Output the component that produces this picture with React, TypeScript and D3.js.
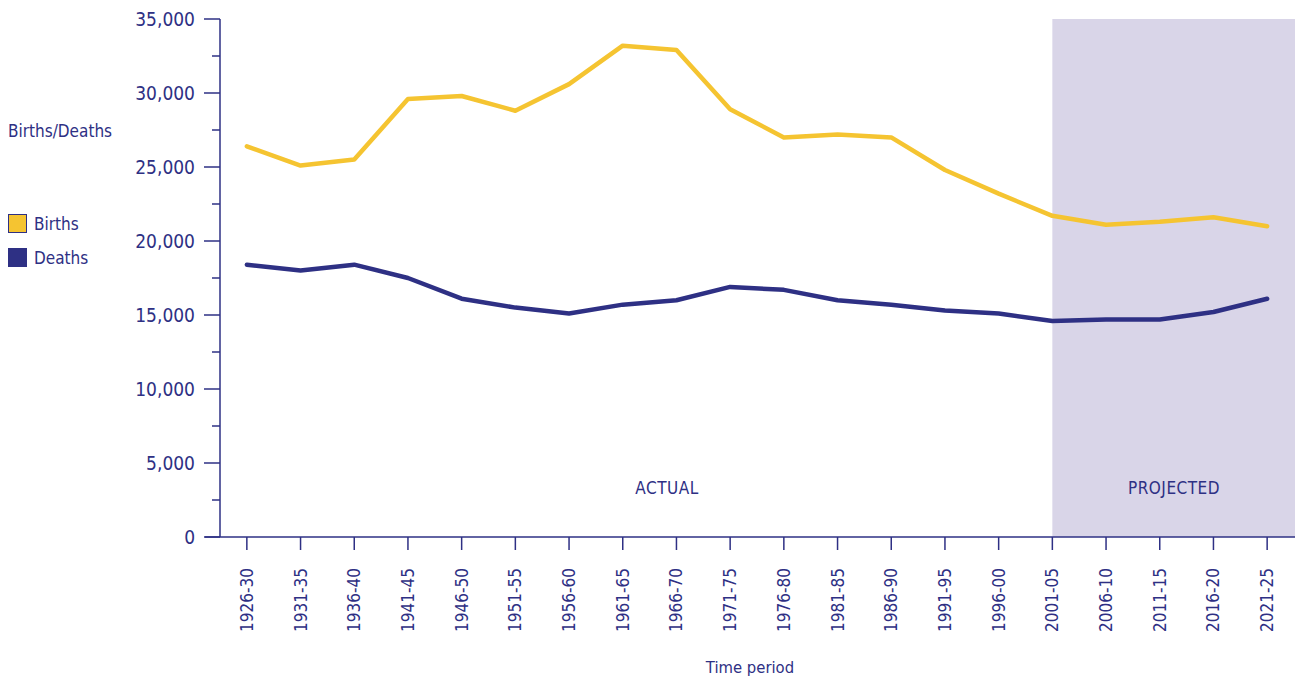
import React from "react";
import * as d3 from "d3";

const categories = ["1926-30","1931-35","1936-40","1941-45","1946-50","1951-55","1956-60","1961-65","1966-70","1971-75","1976-80","1981-85","1986-90","1991-95","1996-00","2001-05","2006-10","2011-15","2016-20","2021-25"];
const births = [26400,25100,25500,29600,29800,28800,30600,33200,32900,28900,27000,27200,27000,24800,23200,21700,21100,21300,21600,21000];
const deaths = [18400,18000,18400,17500,16100,15500,15100,15700,16000,16900,16700,16000,15700,15300,15100,14600,14700,14700,15200,16100];
const yMajorTicks = [0,5000,10000,15000,20000,25000,30000,35000];
const yMinorTicks = [2500,7500,12500,17500,22500,27500,32500];
const projectedStart = "2001-05";

const NAVY = "#2e3084";
const YELLOW = "#f5c431";
const SHADE = "#d9d5e8";
const FONT = "'Liberation Sans Narrow', 'DejaVu Sans Condensed', 'Roboto', sans-serif";

export default function App() {
  const W = 1295, H = 679;
  const left = 220, right = 1294, top = 19, bottom = 537;
  const x = d3.scaleBand<string>().domain(categories).range([left, right]);
  const cx = (c: string) => (x(c) as number) + x.bandwidth() / 2;
  const y = d3.scaleLinear().domain([0, 35000]).range([bottom, top]);
  const line = d3.line<number>().x((_, i) => cx(categories[i])).y(d => y(d));
  const shadeX = cx(projectedStart);

  return (
    <svg width={W} height={H} style={{ position: "absolute", left: 0, top: 0 }} fontFamily={FONT}>
      <rect x={0} y={0} width={W} height={H} fill="#fff" />
      <rect x={shadeX} y={top} width={W - shadeX} height={bottom - top} fill={SHADE} />
      {/* y axis */}
      <line x1={left} x2={left} y1={top} y2={bottom} stroke={NAVY} strokeWidth={1.5} />
      {yMajorTicks.map(t => (
        <g key={t}>
          <line x1={left - 16} x2={left} y1={y(t)} y2={y(t)} stroke={NAVY} strokeWidth={1.5} />
          <text x={195} y={y(t)} dy="0.35em" textAnchor="end" fontSize={19} fill={NAVY}>{d3.format(",")(t)}</text>
        </g>
      ))}
      {yMinorTicks.map(t => (
        <line key={t} x1={left - 8} x2={left} y1={y(t)} y2={y(t)} stroke={NAVY} strokeWidth={1.5} />
      ))}
      {/* x axis */}
      <line x1={205} x2={W} y1={bottom} y2={bottom} stroke={NAVY} strokeWidth={1.5} />
      {categories.map(c => (
        <g key={c}>
          <line x1={cx(c)} x2={cx(c)} y1={bottom} y2={bottom + 13} stroke={NAVY} strokeWidth={1.5} />
          <text transform={`translate(${cx(c)},568) rotate(-90)`} dy="0.35em" textAnchor="end" fontSize={17} fill={NAVY}>{c}</text>
        </g>
      ))}
      {/* lines */}
      <path d={line(births) || ""} fill="none" stroke={YELLOW} strokeWidth={4.5} strokeLinecap="round" strokeLinejoin="round" />
      <path d={line(deaths) || ""} fill="none" stroke={NAVY} strokeWidth={4.5} strokeLinecap="round" strokeLinejoin="round" />
      {/* annotations */}
      <text x={667} y={488} dy="0.35em" textAnchor="middle" fontSize={17} fill={NAVY} letterSpacing={0.5}>ACTUAL</text>
      <text x={1174} y={488} dy="0.35em" textAnchor="middle" fontSize={17} fill={NAVY} letterSpacing={0.5}>PROJECTED</text>
      <text x={750} y={667} dy="0.35em" textAnchor="middle" fontSize={16.5} fill={NAVY}>Time period</text>
      <text x={8} y={131} dy="0.35em" fontSize={17} fill={NAVY}>Births/Deaths</text>
      {/* legend */}
      <rect x={8.5} y={214.5} width={18} height={18} fill={YELLOW} stroke={NAVY} strokeWidth={1} />
      <text x={34} y={224} dy="0.35em" fontSize={17} fill={NAVY}>Births</text>
      <rect x={8.5} y={248.5} width={18} height={18} fill={NAVY} stroke={NAVY} strokeWidth={1} />
      <text x={34} y={258} dy="0.35em" fontSize={17} fill={NAVY}>Deaths</text>
    </svg>
  );
}
